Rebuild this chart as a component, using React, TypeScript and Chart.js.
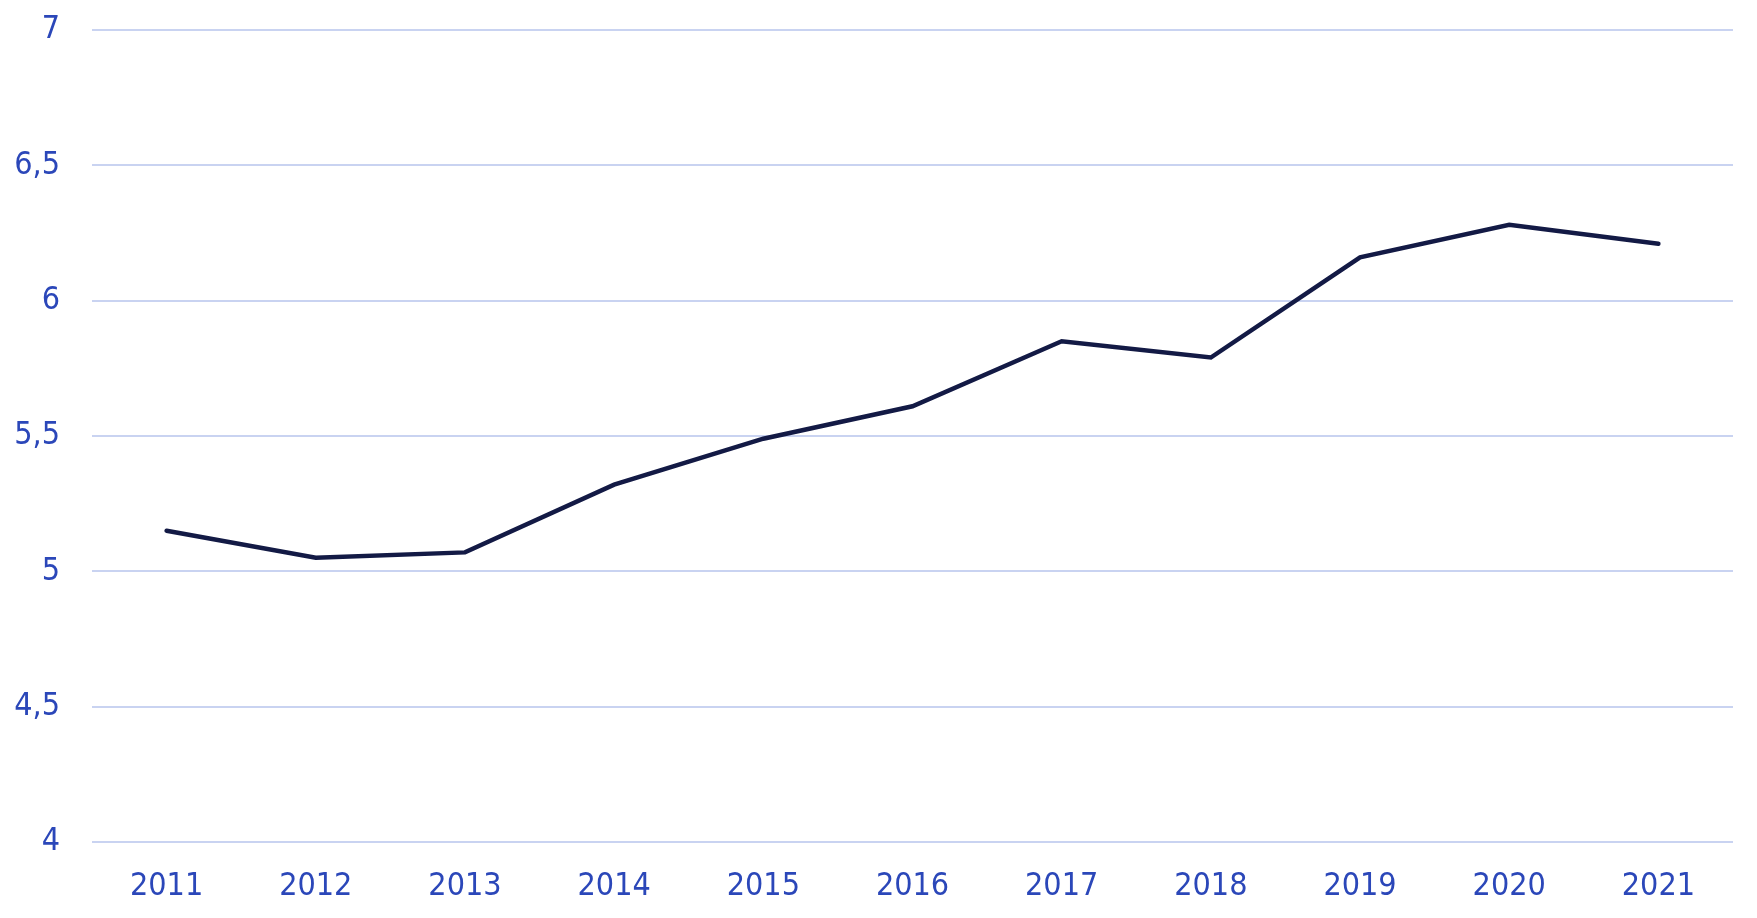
import React, { useEffect, useRef } from "react";
import { Chart, registerables } from "chart.js";

Chart.register(...registerables);

const years = ["2011", "2012", "2013", "2014", "2015", "2016", "2017", "2018", "2019", "2020", "2021"];
const values = [5.15, 5.05, 5.07, 5.32, 5.49, 5.61, 5.85, 5.79, 6.16, 6.28, 6.21];
const yMin = 4;
const yMax = 7;
const yStep = 0.5;

const labelColor = "#2B47B9";
const lineColor = "#131A45";
const gridColor = "#C9D3F1";
const fontFamily = "'DejaVu Sans Condensed', 'DejaVu Sans', sans-serif";

export default function App() {
  const ref = useRef<HTMLCanvasElement | null>(null);

  useEffect(() => {
    document.body.style.margin = "0";
    const canvas = ref.current;
    if (!canvas) return;
    const chart = new Chart(canvas, {
      type: "line",
      data: {
        labels: years,
        datasets: [
          {
            data: values,
            borderColor: lineColor,
            borderWidth: 4.5,
            borderCapStyle: "round",
            borderJoinStyle: "miter",
            pointRadius: 0,
            fill: false,
            tension: 0,
          },
        ],
      },
      options: {
        animation: false,
        responsive: false,
        maintainAspectRatio: false,
        layout: { padding: { top: 30, right: 24, left: 0, bottom: 0 } },
        plugins: { legend: { display: false }, tooltip: { enabled: false } },
        scales: {
          x: {
            offset: true,
            grid: { display: false, drawTicks: false },
            border: { display: false },
            ticks: {
              color: labelColor,
              font: { family: fontFamily, size: 32 },
              padding: 25,
              maxRotation: 0,
            },
            afterFit: (s: any) => {
              s.height = 76;
              s.paddingLeft = 0;
              s.paddingRight = 0;
            },
          },
          y: {
            min: yMin,
            max: yMax,
            grid: { color: gridColor, lineWidth: 2, drawTicks: false },
            border: { display: false },
            ticks: {
              stepSize: yStep,
              color: labelColor,
              font: { family: fontFamily, size: 32 },
              padding: 32,
              callback: (v: any) => String(v).replace(".", ","),
            },
            afterFit: (s: any) => {
              s.width = 92;
              s.paddingTop = 0;
              s.paddingBottom = 0;
            },
          },
        },
      },
    });
    return () => chart.destroy();
  }, []);

  return (
    <div style={{ width: 1757, height: 918, background: "#fff" }}>
      <canvas ref={ref} width={1757} height={918} style={{ display: "block" }} />
    </div>
  );
}
